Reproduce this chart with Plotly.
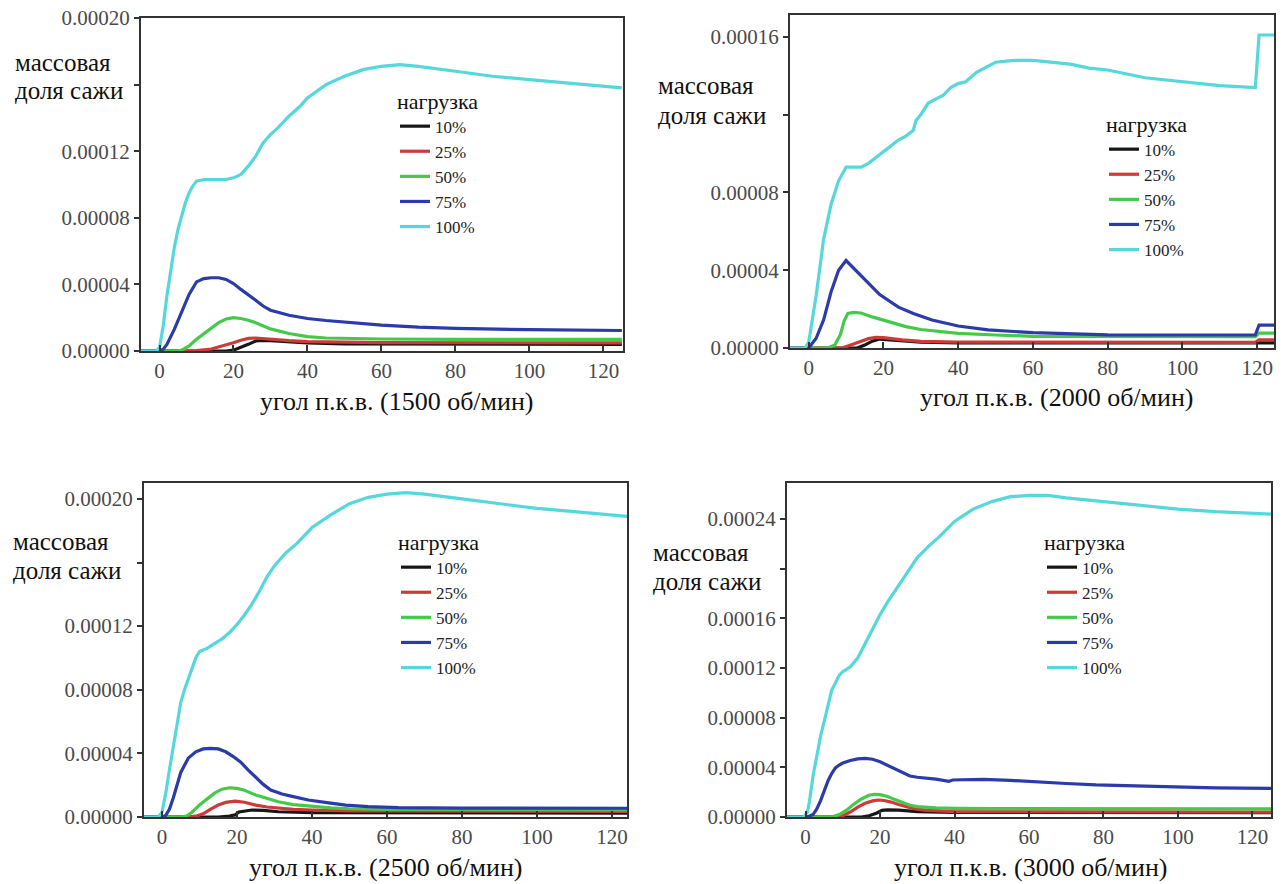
import plotly.graph_objects as go

SERIF = "'Liberation Serif', 'Times New Roman', serif"

LOADS = ["10%", "25%", "50%", "75%", "100%"]
LOAD_COLORS = ["#161616", "#cc3b37", "#46c94b", "#2b3ba8", "#56d7dc"]

# Crank angle (deg) and soot mass fraction (in units of 1e-6) per engine speed and load

# ---- 1500 rpm ----
ANGLE_1500_10 = [-5, 18, 20, 22, 24, 26, 28, 30, 35, 40, 50, 125]
SOOT_1500_10 = [0, 0, 0.5, 2, 4, 6, 6.4, 6.2, 5.5, 4.8, 4.2, 4.0]
ANGLE_1500_25 = [-5, 8, 10, 14, 18, 20, 22, 24, 26, 28, 30, 35, 40, 50, 60, 125]
SOOT_1500_25 = [0, 0, 0.3, 1.2, 3.5, 5, 6.5, 7.6, 7.8, 7.4, 7.0, 6.2, 5.6, 5.2, 5.0, 4.9]
ANGLE_1500_50 = [-5, 5, 6, 8, 10, 12, 14, 16, 18, 20, 22, 24, 26, 28, 30, 35, 40, 45, 50, 60, 80, 125]
SOOT_1500_50 = [0, 0, 0.5, 3, 7, 10.5, 14, 17, 19.2, 20, 19.5, 18.5, 17, 15.2, 13.3, 10.5, 8.6, 7.8, 7.5, 7.2, 7.0, 7.0]
ANGLE_1500_75 = [-5, 0, 1, 2, 4, 6, 8, 10, 12, 14, 16, 18, 20, 22, 24, 26, 28, 30, 35, 40, 45, 50, 60, 70, 80, 100, 125]
SOOT_1500_75 = [0, 0, 1, 4, 13, 24, 34, 41.5, 43.5, 44, 44, 43, 40.5, 37, 34, 30.5, 27, 24.5, 21.5, 19.5, 18.3, 17.3, 15.5, 14.3, 13.6, 12.8, 12.3]
ANGLE_1500_100 = [-5, -1, 0, 1, 2, 3, 4, 5, 6, 7, 8, 9, 10, 12, 14, 16, 18, 20, 22, 24, 26, 28, 30, 32, 35,
                  38, 40, 45, 50, 55, 60, 65, 70, 80, 90, 100, 110, 120, 125]
SOOT_1500_100 = [0, 0, 2, 15, 33, 48, 62, 73, 82, 89, 95, 99, 102, 103, 103, 103, 103, 104, 106, 111, 117, 125, 130, 134, 141,
                 147, 152, 160, 165, 169, 171, 172, 171, 168, 165, 163, 161, 159, 158]

# ---- 2000 rpm ----
ANGLE_2000_10 = [-5, 13, 15, 17, 19, 21, 25, 30, 40, 124.5]
SOOT_2000_10 = [0, 0, 1.5, 3.5, 4.6, 4.3, 3.5, 3.0, 2.6, 2.6]
ANGLE_2000_25 = [-5, 9, 12, 14, 16, 18, 20, 25, 30, 40, 60, 119.5, 120.5, 124.5]
SOOT_2000_25 = [0, 0, 2, 3.5, 4.8, 5.5, 5.3, 4.2, 3.4, 3.0, 2.9, 2.9, 4.2, 4.2]
ANGLE_2000_50 = [-5, 5, 7, 8.5, 9.5, 10.5, 12, 14, 17, 20, 23, 26, 30, 35, 40, 50, 60, 119.5, 120.5, 124.5]
SOOT_2000_50 = [0, 0, 1.5, 7, 14, 17.8, 18.3, 18, 16, 14.4, 12.5, 11, 9.5, 8.4, 7.5, 6.7, 6.0, 5.8, 7.7, 7.7]
ANGLE_2000_75 = [-5, 0, 2, 4, 6, 8, 10, 12, 15, 19, 24, 28, 33, 40, 48, 60, 80, 100, 119.5, 120.5, 124.5]
SOOT_2000_75 = [0, 0, 5, 14.5, 29, 40, 45, 41, 35, 27.5, 21, 17.8, 14.4, 11.3, 9.3, 7.9, 6.8, 6.7, 6.7, 11.8, 11.8]
ANGLE_2000_100 = [-5, -1, 0, 2, 4, 6, 8, 10, 12, 14, 16, 18, 20, 22, 24, 26, 28, 28.7, 30, 32, 34, 36, 38, 40,
                  42, 45, 50, 55, 60, 65, 70, 75, 80, 90, 100, 110, 119.5, 120.5, 124.5]
SOOT_2000_100 = [0, 0, 3, 27, 56, 74, 86, 93, 93, 93, 95, 98, 101, 104, 107, 109, 112, 117, 120, 126, 128, 130, 134, 136,
                 137, 142, 147, 148, 148, 147, 146, 144, 143, 139, 137, 135, 134, 161, 161]

# ---- 2500 rpm ----
ANGLE_2500_10 = [-5, 15, 18, 19.5, 20.5, 22, 24, 27, 31, 40, 124]
SOOT_2500_10 = [0, 0, 0.6, 1.3, 3.2, 3.8, 4.4, 4.2, 3.3, 2.7, 2.4]
ANGLE_2500_25 = [-5, 7, 9, 11, 13, 15, 17, 19.5, 22, 25, 28, 31, 35, 40, 50, 124]
SOOT_2500_25 = [0, 0, 0.5, 2, 5, 7.5, 9.2, 10, 9.3, 7.5, 6.3, 5.5, 4.8, 4.4, 3.8, 3.5]
ANGLE_2500_50 = [-5, 5, 6.5, 8, 10, 12, 14, 16, 18, 20, 22, 25, 28, 31, 35, 40, 45, 50, 60, 124]
SOOT_2500_50 = [0, 0, 0.5, 3, 7.5, 11.5, 15, 17.5, 18.4, 18, 16.8, 13.8, 11.5, 9.6, 7.8, 6.5, 5.7, 5.2, 4.8, 4.5]
ANGLE_2500_75 = [-5, 0, 1, 2, 3, 4, 5, 7, 9, 11, 13, 15, 17, 19, 21, 23, 25, 27, 29, 32, 35, 39, 44, 49, 55, 63, 80, 124]
SOOT_2500_75 = [0, 0, 1, 5, 12, 20, 28, 37, 41, 42.8, 43.2, 42.8, 41, 38, 34.5, 29.5, 25, 20.5, 17, 14.5, 12.8, 10.7, 9, 7.5, 6.5, 5.9, 5.6, 5.5]
ANGLE_2500_100 = [-5, -1, 0, 1, 2, 3, 4, 5, 6, 7, 8, 9, 10, 12, 14, 16, 18, 20, 22, 24, 26, 28, 30, 33, 36,
                  40, 45, 50, 55, 60, 65, 70, 80, 90, 100, 110, 124]
SOOT_2500_100 = [0, 0, 3, 15, 30, 44, 58, 72, 80, 87, 94, 100, 104, 106, 109, 112, 116, 121, 127, 134, 142, 151, 158, 166, 172,
                 182, 190, 197, 201, 203, 204, 203, 200, 197, 194, 192, 189]

# ---- 3000 rpm ----
ANGLE_3000_10 = [-5, 15, 17, 19, 20.5, 22, 25, 30, 40, 125]
SOOT_3000_10 = [0, 0, 1, 3, 5.3, 5.8, 5.5, 4.4, 3.8, 3.5]
ANGLE_3000_25 = [-5, 8.5, 10, 12, 14, 16, 18, 19.5, 21, 23, 25, 27, 29, 32, 36, 40, 125]
SOOT_3000_25 = [0, 0, 1, 4, 8, 11, 13, 13.7, 13.3, 12, 10, 8.3, 6.8, 5.6, 4.8, 4.3, 4.0]
ANGLE_3000_50 = [-5, 7, 9, 11, 13, 15, 17, 18.5, 20, 22, 24, 26, 28, 30, 35, 40, 50, 125]
SOOT_3000_50 = [0, 0, 2, 5.5, 10.5, 14.5, 17.5, 18.3, 18, 16.5, 14, 11.5, 9.5, 8.3, 7.3, 7.0, 6.7, 6.5]
ANGLE_3000_75 = [-5, 0.5, 2, 3, 4, 5, 6, 7, 8, 9, 10, 12, 14, 16, 18, 20, 22, 24, 26, 28, 30, 35, 38.5, 39.5,
                 42, 48, 55, 60, 70, 78, 90, 100, 110, 125]
SOOT_3000_75 = [0, 0, 2, 6.5, 13, 21.5, 29, 35, 39.5, 41.8, 43.5, 45.5, 46.8, 47.2, 46.5, 44.5, 41.5, 38.5, 35.5, 33, 32, 30.5, 28.8, 29.8,
                30, 30.3, 29.5, 28.5, 27, 25.8, 24.7, 24, 23.5, 23.1]
ANGLE_3000_100 = [-5, -0.5, 0.5, 1, 2, 3, 4, 5, 6, 7, 8, 9, 10, 12, 14, 16, 18, 20, 22, 24, 26, 28, 30, 33, 36,
                  40, 45, 50, 55, 60, 65, 70, 80, 90, 100, 110, 125]
SOOT_3000_100 = [0, 0, 4, 12, 33, 50, 65, 77, 90, 102, 108, 114, 117, 121, 128, 140, 151, 163, 173, 182, 192, 201, 209, 218, 226,
                 238, 248, 254, 258, 259, 259, 257, 254, 251, 248, 246, 244]

SPEEDS = [1500, 2000, 2500, 3000]
ANGLES = {
    1500: [ANGLE_1500_10, ANGLE_1500_25, ANGLE_1500_50, ANGLE_1500_75, ANGLE_1500_100],
    2000: [ANGLE_2000_10, ANGLE_2000_25, ANGLE_2000_50, ANGLE_2000_75, ANGLE_2000_100],
    2500: [ANGLE_2500_10, ANGLE_2500_25, ANGLE_2500_50, ANGLE_2500_75, ANGLE_2500_100],
    3000: [ANGLE_3000_10, ANGLE_3000_25, ANGLE_3000_50, ANGLE_3000_75, ANGLE_3000_100],
}
SOOT = {
    1500: [SOOT_1500_10, SOOT_1500_25, SOOT_1500_50, SOOT_1500_75, SOOT_1500_100],
    2000: [SOOT_2000_10, SOOT_2000_25, SOOT_2000_50, SOOT_2000_75, SOOT_2000_100],
    2500: [SOOT_2500_10, SOOT_2500_25, SOOT_2500_50, SOOT_2500_75, SOOT_2500_100],
    3000: [SOOT_3000_10, SOOT_3000_25, SOOT_3000_50, SOOT_3000_75, SOOT_3000_100],
}

X_TICKS = [0, 20, 40, 60, 80, 100, 120]
# y tick values per panel; an empty label marks a tick whose label is covered by the axis caption
Y_TICKS = {
    1500: ([0, 4e-5, 8e-5, 1.2e-4, 1.6e-4, 2e-4], ["0.00000", "0.00004", "0.00008", "0.00012", "", "0.00020"]),
    2000: ([0, 4e-5, 8e-5, 1.2e-4, 1.6e-4], ["0.00000", "0.00004", "0.00008", "", "0.00016"]),
    2500: ([0, 4e-5, 8e-5, 1.2e-4, 1.6e-4, 2e-4], ["0.00000", "0.00004", "0.00008", "0.00012", "", "0.00020"]),
    3000: ([0, 4e-5, 8e-5, 1.2e-4, 1.6e-4, 2e-4, 2.4e-4],
           ["0.00000", "0.00004", "0.00008", "0.00012", "0.00016", "", "0.00024"]),
}
Y_RANGES = {1500: [0, 2.0e-4], 2000: [0, 1.713e-4], 2500: [0, 2.10e-4], 3000: [0, 2.69e-4]}
X_RANGES = {1500: [-5, 125.3], 2000: [-5, 124.5], 2500: [-4.8, 124], 3000: [-5, 125]}

W, H = 1282, 884


def px_x(v):
    return v / W


def px_y(v):
    return 1 - v / H


# panel placement in pixels: left, right, top, bottom
PANEL_BOX = {
    1500: (141, 623, 18, 351),
    2000: (790, 1274, 15, 348),
    2500: (144, 627, 483, 817),
    3000: (787, 1271, 483, 817),
}
CAPTION_POS = {1500: (13, 63, 91), 2000: (656, 86, 116), 2500: (11, 541, 570), 3000: (651, 552, 581)}
TITLE_POS = {1500: (397, 402), 2000: (1057, 398), 2500: (386, 867), 3000: (1031, 867)}
LEGEND_POS = {1500: (395, 80), 2000: (1104, 103), 2500: (396, 521), 3000: (1042, 521)}

fig = go.Figure()
annotations = []
layout = dict(
    width=W, height=H,
    margin=dict(l=0, r=0, t=0, b=0, pad=0, autoexpand=False),
    paper_bgcolor="white", plot_bgcolor="white",
    font=dict(family=SERIF, color="#222"),
)

for k, rpm in enumerate(SPEEDS, start=1):
    sfx = "" if k == 1 else str(k)
    legend_name = "legend" if k == 1 else f"legend{k}"
    for j, load in enumerate(LOADS):
        fig.add_trace(go.Scatter(
            x=ANGLES[rpm][j],
            y=[v * 1e-6 for v in SOOT[rpm][j]],
            mode="lines",
            name=load,
            line=dict(color=LOAD_COLORS[j], width=3.2),
            xaxis="x" + sfx, yaxis="y" + sfx,
            legend=legend_name,
        ))

    left, right, top, bottom = PANEL_BOX[rpm]
    tv, tt = Y_TICKS[rpm]
    layout["xaxis" + sfx] = dict(
        domain=[px_x(left), px_x(right)], anchor="y" + sfx,
        range=X_RANGES[rpm], tickvals=X_TICKS, automargin=False,
        ticks="inside", ticklen=6, tickwidth=1.5, tickcolor="#333",
        showline=True, linecolor="#333", linewidth=2, mirror=True,
        showgrid=False, zeroline=False,
        tickfont=dict(family=SERIF, size=21, color="#4a4a4a"),
    )
    layout["yaxis" + sfx] = dict(
        domain=[px_y(bottom), px_y(top)], anchor="x" + sfx,
        range=Y_RANGES[rpm], tickvals=tv, ticktext=tt, automargin=False,
        ticks="outside", ticklen=5, tickwidth=1.5, tickcolor="#333",
        showline=True, linecolor="#333", linewidth=2, mirror=True,
        showgrid=False, zeroline=False,
        tickfont=dict(family=SERIF, size=21, color="#4a4a4a"),
    )

    lx, ly = LEGEND_POS[rpm]
    layout[legend_name] = dict(
        x=px_x(lx), y=px_y(ly), xanchor="left", yanchor="top",
        bgcolor="rgba(0,0,0,0)", borderwidth=0,
        font=dict(family=SERIF, size=17, color="#222"),
        title=dict(text="нагрузка", font=dict(family=SERIF, size=22, color="#111")),
        itemwidth=30, tracegroupgap=0,
    )

    cx, cy1, cy2 = CAPTION_POS[rpm]
    for text, cy in (("массовая", cy1), ("доля сажи", cy2)):
        annotations.append(dict(
            text=text, xref="paper", yref="paper",
            x=px_x(cx), y=px_y(cy), xanchor="left", yanchor="middle",
            showarrow=False, font=dict(family=SERIF, size=25, color="#111"),
        ))

    tx, ty = TITLE_POS[rpm]
    annotations.append(dict(
        text=f"угол п.к.в. ({rpm} об/мин)", xref="paper", yref="paper",
        x=px_x(tx), y=px_y(ty), xanchor="center", yanchor="middle",
        showarrow=False, font=dict(family=SERIF, size=26, color="#111"),
    ))

layout["annotations"] = annotations
layout["showlegend"] = True
fig.update_layout(**layout)

fig.write_html("out.html")
